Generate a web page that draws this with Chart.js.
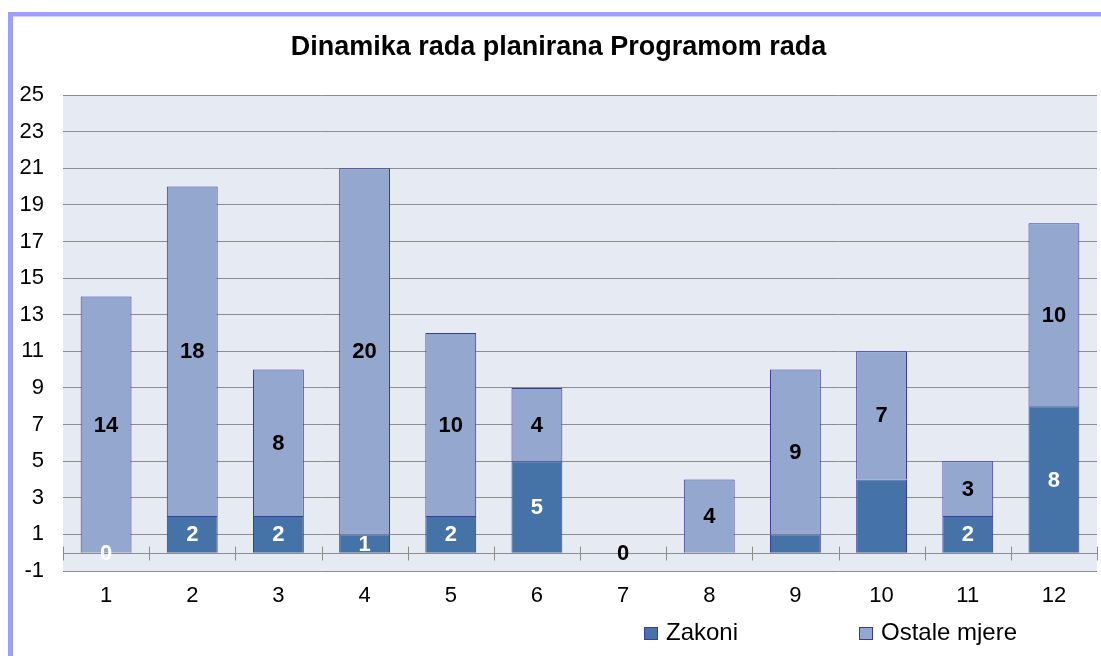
<!DOCTYPE html>
<html><head><meta charset="utf-8">
<script src="https://cdn.jsdelivr.net/npm/chart.js@4.4.0/dist/chart.umd.min.js"></script>
<style>html,body{margin:0;padding:0;background:#fff;} #wrap{position:relative;width:1101px;height:656px;overflow:hidden;}</style>
</head><body><div id="wrap"><canvas id="c" width="1101" height="656"></canvas></div>
<script>
const categories = ['1','2','3','4','5','6','7','8','9','10','11','12'];
const zakoni = [0, 2, 2, 1, 2, 5, 0, 0, 1, 4, 2, 8];
const ostaleMjere = [14, 18, 8, 20, 10, 4, 0, 4, 9, 7, 3, 10];
const zakoniLabelShown = [true, true, true, true, true, true, false, false, false, false, true, true];
const ostaleLabelShown = [true, true, true, true, true, true, true, true, true, true, true, true];
const seriesNames = ['Zakoni', 'Ostale mjere'];
const titleText = 'Dinamika rada planirana Programom rada';
const yMin = -1, yMax = 25, yStep = 2;

const FONT = "'Liberation Sans', Arial, sans-serif";
const colZakoni = '#4573A7';
const colOstale = '#94A8CF';
const colBorder = '#3A3AA0';

const decor = {
  id: 'decor',
  beforeDraw(chart) {
    const {ctx, chartArea: a} = chart;
    ctx.save();
    ctx.fillStyle = '#ffffff';
    ctx.fillRect(0, 0, chart.width, chart.height);
    ctx.fillStyle = '#9E9EFF';
    ctx.fillRect(8, 12, 5, chart.height);
    ctx.fillRect(8, 12, chart.width, 4.5);
    ctx.fillStyle = '#E6EAF2';
    ctx.fillRect(a.left, a.top, a.right - a.left, a.bottom - a.top);
    ctx.restore();
  },
  beforeDatasetsDraw(chart) {
    const {ctx, chartArea: a, scales} = chart;
    const y0 = Math.round(scales.y.getPixelForValue(0)) + 0.5;
    ctx.save();
    ctx.strokeStyle = '#8C8C8C';
    ctx.lineWidth = 1;
    ctx.beginPath();
    ctx.moveTo(a.left, y0); ctx.lineTo(a.right, y0);
    const n = categories.length;
    const w = (a.right - a.left) / n;
    for (let i = 0; i <= n; i++) {
      const x = Math.round(a.left + i * w) + 0.5;
      ctx.moveTo(x, y0 - 7); ctx.lineTo(x, y0 + 7);
    }
    ctx.stroke();
    ctx.restore();
  },
  afterDatasetsDraw(chart) {
    const {ctx} = chart;
    ctx.save();
    ctx.font = "bold 22px " + FONT;
    ctx.textAlign = 'center';
    ctx.textBaseline = 'middle';
    chart.data.datasets.forEach((ds, i) => {
      const meta = chart.getDatasetMeta(i);
      ctx.fillStyle = ds.labelColor;
      meta.data.forEach((el, j) => {
        if (!ds.labelShown[j]) return;
        const p = el.getProps(['x', 'y', 'base'], true);
        ctx.fillText(String(ds.data[j]), p.x, (p.y + p.base) / 2 + 1);
      });
    });
    ctx.restore();
  },
  afterDraw(chart) {
    const {ctx} = chart;
    const pos = [[644, 666], [859, 881]];
    ctx.save();
    ctx.font = "24px " + FONT;
    ctx.textBaseline = 'middle';
    ctx.textAlign = 'left';
    chart.data.datasets.forEach((ds, i) => {
      ctx.fillStyle = ds.backgroundColor;
      ctx.fillRect(pos[i][0], 627, 14, 13);
      ctx.strokeStyle = colBorder;
      ctx.lineWidth = 1;
      ctx.strokeRect(pos[i][0] + 0.5, 627.5, 13, 12);
      ctx.fillStyle = '#000';
      ctx.fillText(ds.label, pos[i][1], 633);
    });
    ctx.restore();
  }
};

new Chart(document.getElementById('c'), {
  type: 'bar',
  data: {
    labels: categories,
    datasets: [
      { label: seriesNames[0], data: zakoni, backgroundColor: colZakoni, borderColor: colBorder, borderWidth: 1,
        labelShown: zakoniLabelShown, labelColor: '#ffffff', barPercentage: 0.59, categoryPercentage: 1 },
      { label: seriesNames[1], data: ostaleMjere, backgroundColor: colOstale, borderColor: colBorder, borderWidth: 1,
        labelShown: ostaleLabelShown, labelColor: '#000000', barPercentage: 0.59, categoryPercentage: 1 }
    ]
  },
  options: {
    responsive: false,
    animation: false,
    devicePixelRatio: 1,
    layout: { padding: { left: 20, right: 4, top: 0, bottom: 0 } },
    plugins: {
      legend: { display: false },
      tooltip: { enabled: false },
      title: {
        display: true, text: titleText, color: '#000',
        font: { family: FONT, size: 27, weight: 'bold', lineHeight: 1.2 },
        padding: { top: 31, bottom: 31.6 }
      }
    },
    scales: {
      x: {
        stacked: true,
        grid: { display: false },
        border: { display: false },
        ticks: { color: '#000', font: { family: FONT, size: 22 }, padding: 4, maxRotation: 0 },
        afterFit(s) { s.height = 85; }
      },
      y: {
        stacked: true,
        min: yMin, max: yMax,
        grid: { color: '#8C8C8C', drawTicks: false },
        border: { display: false },
        ticks: { stepSize: yStep, color: '#000', font: { family: FONT, size: 22 }, padding: 19 },
        afterFit(s) { s.width = 43; }
      }
    }
  },
  plugins: [decor]
});
</script>
</body></html>
